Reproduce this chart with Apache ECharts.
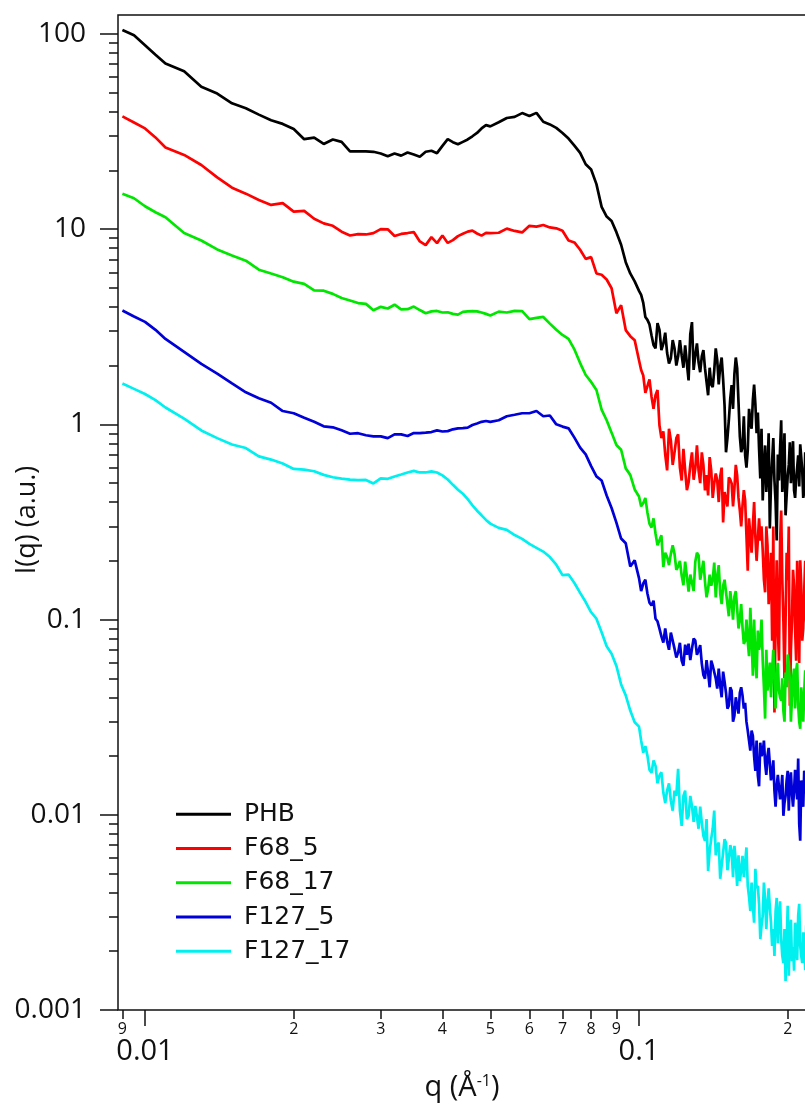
<!DOCTYPE html>
<html>
<head>
<meta charset="utf-8">
<script src="https://cdn.jsdelivr.net/npm/echarts@6/dist/echarts.min.js"></script>
<style>
  html, body { margin: 0; padding: 0; background: #fff; }
  #chart { width: 805px; height: 1107px; }
</style>
</head>
<body>
<div id="chart"></div>
<script>
// q grid (1/A), shared by all samples
const q = [0.0090, 0.0095, 0.0100, 0.0105, 0.0110, 0.0120, 0.0130, 0.0140, 0.0150, 0.0160, 0.0170, 0.0180,
  0.0190, 0.0200, 0.0210, 0.0220, 0.0230, 0.0240, 0.0250, 0.0260, 0.0270, 0.0280, 0.0290, 0.0300,
  0.031, 0.032, 0.033, 0.034, 0.035, 0.036, 0.037, 0.038, 0.039, 0.040, 0.041, 0.042, 0.043, 0.044,
  0.045, 0.046, 0.047, 0.048, 0.049, 0.050,
  0.052, 0.054, 0.056, 0.058, 0.060, 0.062, 0.064, 0.066, 0.068, 0.070,
  0.072, 0.074, 0.076, 0.078, 0.080, 0.082, 0.084, 0.086, 0.088, 0.090, 0.092, 0.094, 0.096, 0.098,
  0.100, 0.102, 0.104, 0.106, 0.108, 0.110, 0.112, 0.114, 0.116, 0.118, 0.120, 0.122, 0.124, 0.126,
  0.128, 0.130, 0.132, 0.134, 0.136, 0.138, 0.140, 0.142, 0.144, 0.146, 0.148, 0.150, 0.152, 0.154,
  0.156, 0.158, 0.160, 0.162, 0.164, 0.166, 0.168, 0.170, 0.172, 0.174, 0.176, 0.178, 0.180, 0.182,
  0.184, 0.186, 0.188, 0.190, 0.192, 0.194, 0.196, 0.198, 0.200, 0.202, 0.204, 0.206, 0.208, 0.210,
  0.212, 0.214, 0.216, 0.218, 0.220];

const phb = [104.8, 98.5, 87.6, 78.3, 70.6, 64.4, 53.6, 49.5, 44.1, 41.6, 38.6, 36.1,
  34.6, 32.6, 28.9, 29.4, 27.3, 28.8, 28.0, 25.0, 25.0, 25.0, 24.9, 24.4,
  23.6, 24.4, 23.8, 24.7, 24.1, 23.5, 24.9, 25.2, 24.5, 26.7, 28.9, 27.9, 27.2, 28.0,
  28.8, 29.9, 31.1, 32.8, 34.1, 33.6,
  35.3, 37.1, 37.6, 39.3, 38.0, 39.4, 35.5, 34.4, 33.0, 31.1,
  29.1, 26.8, 24.6, 21.5, 20.2, 17.0, 13.0, 11.6, 11.0, 9.65, 8.32, 6.77, 5.93, 5.40,
  4.83, 4.19, 3.43, 2.86, 2.45, 3.05, 2.59, 2.32, 2.18, 2.45, 2.23, 2.26, 2.54, 1.68,
  3.34, 2.26, 2.08, 2.23, 1.94, 1.41, 1.60, 1.89, 2.13, 1.98, 1.70, 0.719, 1.05, 1.59,
  1.81, 1.94, 0.868, 0.762, 0.694, 0.736, 1.04, 1.33, 1.27, 1.15, 0.529, 0.408, 0.780, 0.581,
  0.293, 0.654, 0.516, 0.254, 0.516, 1.05, 0.581, 0.342, 0.548, 0.809, 0.616, 0.459, 0.529, 0.694,
  0.790, 0.581, 0.453, 0.581, 0.654];

const f68_5 = [37.8, 35.2, 32.8, 29.5, 26.2, 24.0, 21.3, 18.4, 16.3, 15.2, 14.1, 13.3,
  13.6, 12.3, 12.4, 11.3, 10.7, 10.4, 9.70, 9.28, 9.43, 9.39, 9.54, 10.0,
  9.98, 9.23, 9.45, 9.55, 9.66, 8.65, 8.28, 9.10, 8.48, 9.28, 8.50, 8.78, 9.21, 9.47,
  9.71, 9.82, 9.50, 9.26, 9.56, 9.54,
  9.58, 10.06, 9.79, 9.62, 10.4, 10.3, 10.5, 10.2, 10.1, 9.82,
  8.75, 8.55, 7.84, 7.04, 7.19, 5.93, 5.84, 5.52, 4.98, 3.71, 4.08, 3.04, 2.83, 2.70,
  2.13, 1.78, 1.57, 1.39, 1.41, 0.988, 0.921, 0.581, 0.828, 0.719, 0.889, 0.516, 0.581, 0.504,
  0.719, 0.595, 0.581, 0.719, 0.459, 0.432, 0.581, 0.498, 0.516, 0.541, 0.314, 0.453, 0.535, 0.498,
  0.470, 0.548, 0.362, 0.384, 0.408, 0.178, 0.330, 0.300, 0.266, 0.196, 0.254, 0.226, 0.138, 0.240,
  0.159, 0.0780, 0.0334, 0.201, 0.0616, 0.362, 0.0988, 0.0988, 0.159, 0.0362, 0.0988, 0.149, 0.0616, 0.125,
  0.201, 0.0780, 0.141, 0.0988, 0.125];

const f68_17 = [15.2, 14.4, 13.1, 12.2, 11.5, 9.56, 8.75, 7.87, 7.32, 6.89, 6.20, 5.92,
  5.67, 5.38, 5.24, 4.85, 4.84, 4.66, 4.44, 4.31, 4.18, 4.14, 3.84, 4.00,
  3.92, 4.10, 3.88, 3.89, 4.01, 3.85, 3.71, 3.79, 3.81, 3.74, 3.75, 3.68, 3.65, 3.77,
  3.79, 3.80, 3.79, 3.74, 3.68, 3.61,
  3.78, 3.74, 3.81, 3.80, 3.46, 3.51, 3.55, 3.28, 3.05, 2.87,
  2.74, 2.42, 2.06, 1.79, 1.65, 1.50, 1.19, 1.05, 0.907, 0.784, 0.741, 0.595, 0.551, 0.464,
  0.427, 0.395, 0.354, 0.296, 0.276, 0.242, 0.186, 0.209, 0.217, 0.217, 0.187, 0.168, 0.198, 0.139,
  0.172, 0.198, 0.213, 0.178, 0.157, 0.143, 0.149, 0.196, 0.168, 0.136, 0.149, 0.138, 0.104, 0.122,
  0.131, 0.114, 0.100, 0.0910, 0.0780, 0.0771, 0.115, 0.0516, 0.0616, 0.0878, 0.0762, 0.0616, 0.0311, 0.0432,
  0.0602, 0.0548, 0.0510, 0.0504, 0.0432, 0.0384, 0.0342, 0.0535, 0.0662, 0.0487, 0.0398, 0.0561, 0.0548, 0.0362,
  0.0276, 0.0362, 0.0432, 0.0384, 0.0487];

const f127_5 = [3.83, 3.57, 3.35, 3.05, 2.74, 2.35, 2.04, 1.82, 1.62, 1.46, 1.36, 1.29,
  1.17, 1.14, 1.08, 1.03, 0.977, 0.966, 0.932, 0.895, 0.901, 0.879, 0.867, 0.868,
  0.850, 0.889, 0.889, 0.872, 0.902, 0.902, 0.907, 0.913, 0.931, 0.919, 0.923, 0.943, 0.953, 0.957,
  0.962, 0.992, 1.01, 1.03, 1.04, 1.03,
  1.05, 1.10, 1.12, 1.14, 1.14, 1.17, 1.10, 1.11, 1.00, 0.974,
  0.954, 0.855, 0.760, 0.702, 0.611, 0.541, 0.516, 0.432, 0.373, 0.314, 0.260, 0.246, 0.187, 0.201,
  0.163, 0.153, 0.136, 0.118, 0.101, 0.0899, 0.0762, 0.0771, 0.0858, 0.0710, 0.0677, 0.0616, 0.0744, 0.0753,
  0.0710, 0.0780, 0.0694, 0.0595, 0.0498, 0.0535, 0.0616, 0.0581, 0.0443, 0.0459, 0.0541, 0.0422, 0.0362, 0.0432,
  0.0322, 0.0362, 0.0422, 0.0408, 0.0375, 0.0270, 0.0213, 0.0254, 0.0168, 0.0159, 0.0234, 0.0208, 0.0183, 0.0201,
  0.0218, 0.0164, 0.0133, 0.0141, 0.0159, 0.0133, 0.00988, 0.0125, 0.0168, 0.0149, 0.0128, 0.0133, 0.0168, 0.0194,
  0.00736, 0.0118, 0.0168, 0.0133, 0.0149];

const f127_17 = [1.62, 1.52, 1.43, 1.33, 1.22, 1.07, 0.931, 0.850, 0.788, 0.756, 0.685, 0.660,
  0.630, 0.591, 0.586, 0.575, 0.551, 0.536, 0.527, 0.521, 0.518, 0.519, 0.498, 0.529,
  0.526, 0.541, 0.554, 0.567, 0.578, 0.567, 0.567, 0.574, 0.567, 0.548, 0.522, 0.490, 0.462, 0.441,
  0.414, 0.385, 0.361, 0.342, 0.324, 0.310,
  0.295, 0.288, 0.271, 0.259, 0.244, 0.233, 0.223, 0.209, 0.191, 0.169,
  0.170, 0.154, 0.137, 0.123, 0.109, 0.101, 0.0861, 0.0730, 0.0669, 0.0579, 0.0465, 0.0409, 0.0342, 0.0298,
  0.0283, 0.0208, 0.0201, 0.0164, 0.0178, 0.0159, 0.0130, 0.0133, 0.0118, 0.0133, 0.0172, 0.00878, 0.0133, 0.00988,
  0.0111, 0.0111, 0.00848, 0.00910, 0.00736, 0.00516, 0.00753, 0.0105, 0.00694, 0.00470, 0.00639, 0.00719, 0.00595, 0.00654,
  0.00694, 0.00432, 0.00459, 0.00616, 0.00567, 0.00432, 0.00322, 0.00342, 0.00529, 0.00432, 0.00231, 0.00304, 0.00362, 0.00350,
  0.00337, 0.00213, 0.00189, 0.00375, 0.00293, 0.00231, 0.00174, 0.00141, 0.00342, 0.00254, 0.00178, 0.00159, 0.00240, 0.00304,
  0.00213, 0.00174, 0.00226, 0.00270, 0.00226];

// extra points between the grid above, in the noisy high-q tail (0.101 ... 0.219)
const qTail = [0.101, 0.103, 0.105, 0.107, 0.109, 0.111, 0.113, 0.115, 0.117, 0.119,
  0.121, 0.123, 0.125, 0.127, 0.129, 0.131, 0.133, 0.135, 0.137, 0.139,
  0.141, 0.143, 0.145, 0.147, 0.149, 0.151, 0.153, 0.155, 0.157, 0.159,
  0.161, 0.163, 0.165, 0.167, 0.169, 0.171, 0.173, 0.175, 0.177, 0.179,
  0.181, 0.183, 0.185, 0.187, 0.189, 0.191, 0.193, 0.195, 0.197, 0.199,
  0.201, 0.203, 0.205, 0.207, 0.209, 0.211, 0.213, 0.215, 0.217, 0.219];

const phbTail = [4.6, 3.55, 3.25, 2.55, 3.3, 2.4, 2.95, 2.05, 2.7, 2.0,
  2.7, 1.95, 2.05, 2.9, 1.9, 2.6, 1.85, 2.4, 1.65, 1.95,
  1.55, 2.45, 1.6, 2.2, 1.25, 0.85, 1.35, 1.2, 2.2, 1.3,
  0.72, 1.1, 0.6, 1.2, 0.95, 1.6, 0.9, 0.75, 0.95, 0.6,
  0.45, 0.9, 0.5, 0.85, 0.4, 0.7, 0.75, 0.45, 0.9, 0.35,
  0.62, 0.5, 0.82, 0.42, 0.6, 0.48, 0.68, 0.42, 0.72, 0.5];

const f68_5Tail = [1.9, 1.45, 1.7, 1.2, 1.5, 0.85, 0.7, 0.95, 0.62, 0.85,
  0.6, 0.75, 0.46, 0.62, 0.52, 0.78, 0.5, 0.62, 0.55, 0.68,
  0.42, 0.56, 0.4, 0.6, 0.45, 0.38, 0.52, 0.38, 0.62, 0.42,
  0.3, 0.46, 0.27, 0.33, 0.22, 0.4, 0.2, 0.33, 0.3, 0.16,
  0.3, 0.12, 0.22, 0.3, 0.1, 0.09, 0.25, 0.16, 0.05, 0.22,
  0.3, 0.07, 0.18, 0.09, 0.2, 0.06, 0.15, 0.09, 0.2, 0.08];

const f68_17Tail = [0.38, 0.42, 0.31, 0.33, 0.24, 0.27, 0.22, 0.19, 0.24, 0.18,
  0.2, 0.15, 0.2, 0.17, 0.14, 0.22, 0.16, 0.2, 0.13, 0.17,
  0.16, 0.13, 0.19, 0.12, 0.16, 0.12, 0.14, 0.1, 0.14, 0.09,
  0.12, 0.075, 0.1, 0.065, 0.08, 0.1, 0.05, 0.07, 0.1, 0.045,
  0.07, 0.05, 0.04, 0.07, 0.035, 0.06, 0.04, 0.05, 0.03, 0.045,
  0.06, 0.03, 0.05, 0.035, 0.06, 0.03, 0.045, 0.03, 0.055, 0.035];

const f127_5Tail = [0.14, 0.16, 0.122, 0.125, 0.098, 0.082, 0.09, 0.07, 0.078, 0.064,
  0.076, 0.058, 0.066, 0.062, 0.08, 0.066, 0.074, 0.052, 0.062, 0.045,
  0.058, 0.05, 0.056, 0.04, 0.048, 0.035, 0.045, 0.03, 0.04, 0.033,
  0.045, 0.035, 0.03, 0.024, 0.027, 0.02, 0.024, 0.014, 0.02, 0.024,
  0.016, 0.022, 0.015, 0.019, 0.011, 0.016, 0.012, 0.016, 0.0115, 0.015,
  0.0105, 0.0165, 0.011, 0.017, 0.012, 0.009, 0.015, 0.011, 0.016, 0.01];

const f127_17Tail = [0.024, 0.0225, 0.017, 0.019, 0.0145, 0.0165, 0.0115, 0.0145, 0.0105, 0.0125,
  0.0105, 0.0125, 0.0095, 0.0125, 0.0092, 0.0098, 0.011, 0.0078, 0.0095, 0.0065,
  0.0085, 0.0062, 0.0072, 0.0055, 0.0075, 0.0052, 0.007, 0.0048, 0.0058, 0.0062,
  0.0052, 0.0048, 0.0068, 0.0038, 0.0045, 0.0028, 0.0042, 0.0035, 0.0027, 0.0045,
  0.0026, 0.0042, 0.0028, 0.0026, 0.0032, 0.0022, 0.0036, 0.0019, 0.0026, 0.0022,
  0.0015, 0.0029, 0.0021, 0.0028, 0.0018, 0.0035, 0.0019, 0.0025, 0.0016, 0.0029];

const seriesNames = ['PHB', 'F68_5', 'F68_17', 'F127_5', 'F127_17'];
const seriesColors = ['#000000', '#ff0000', '#00e600', '#0000d8', '#00f0f0'];
const seriesValues = [phb, f68_5, f68_17, f127_5, f127_17];
const seriesTails = [phbTail, f68_5Tail, f68_17Tail, f127_5Tail, f127_17Tail];

// axis ticks
const xMinorTicks = [0.009, 0.02, 0.03, 0.04, 0.05, 0.06, 0.07, 0.08, 0.09, 0.2];
const xMinorLabels = ['9', '2', '3', '4', '5', '6', '7', '8', '9', '2'];
const xMajorTicks = [0.01, 0.1];
const xMajorLabels = ['0.01', '0.1'];
const yMajorTicks = [0.001, 0.01, 0.1, 1, 10, 100];
const yMajorLabels = ['0.001', '0.01', '0.1', '1', '10', '100'];

const xMin = 0.008817, xMax = 0.25;
const yMin = 0.001, yMax = 125;

const FONT = '"Open Sans", "Noto Sans", sans-serif';
const LEGEND_FONT = '"DejaVu Sans", "Open Sans", sans-serif';
const INK = '#111';

const lg = Math.log10;
const yMinorTicks = [];
yMajorTicks.slice(0, 5).forEach(d => {
  for (let k = 2; k <= 9; k++) yMinorTicks.push(d * k);
});

function pick(ticks, labels) {
  const logs = ticks.map(lg);
  return v => {
    const i = logs.findIndex(t => Math.abs(t - v) < 1e-6);
    return i >= 0 ? labels[i] : '';
  };
}

function pairs(s) {
  let pts = q.map((v, i) => [v, seriesValues[s][i]])
    .concat(qTail.map((v, i) => [v, seriesTails[s][i]]));
  pts.sort((a, b) => a[0] - b[0]);
  return pts;
}

let chart = echarts.init(document.getElementById('chart'), null, { renderer: 'canvas' });

// decoration axes in log10 units, laid over the log axes that carry the data
let overlayX = (ticks, len, labelOpt) => ({
  type: 'value',
  gridIndex: 0,
  position: 'bottom',
  min: lg(xMin),
  max: lg(xMax),
  axisLine: { show: false, onZero: false },
  splitLine: { show: false },
  axisTick: {
    show: true,
    customValues: ticks.map(lg),
    length: len,
    lineStyle: { color: INK, width: 1.5 }
  },
  axisLabel: labelOpt
});

let overlayY = (ticks, len, labelOpt) => ({
  type: 'value',
  gridIndex: 0,
  position: 'left',
  min: lg(yMin),
  max: lg(yMax),
  axisLine: { show: false, onZero: false },
  splitLine: { show: false },
  axisTick: {
    show: true,
    customValues: ticks.map(lg),
    length: len,
    lineStyle: { color: INK, width: 1.5 }
  },
  axisLabel: labelOpt
});

let option = {
  backgroundColor: '#ffffff',
  animation: false,
  grid: {
    left: 118,
    top: 15,
    width: 494 * (lg(xMax) - lg(xMin)),
    height: 995,
    show: true,
    borderColor: INK,
    borderWidth: 1.5,
    backgroundColor: 'transparent',
    containLabel: false,
    outerBoundsMode: 'none'
  },
  legend: {
    orient: 'vertical',
    left: 176,
    top: 797,
    padding: 0,
    itemGap: 0,
    itemWidth: 55,
    itemHeight: 3,
    icon: 'rect',
    selectedMode: false,
    data: seriesNames,
    textStyle: {
      fontFamily: LEGEND_FONT,
      fontSize: 25,
      lineHeight: 34.3,
      color: INK,
      padding: [0, 0, 0, 8]
    }
  },
  xAxis: [
    {
      type: 'log',
      gridIndex: 0,
      min: xMin,
      max: xMax,
      axisLine: { show: false, onZero: false },
      axisTick: { show: false },
      axisLabel: { show: false },
      splitLine: { show: false },
      minorTick: { show: false }
    },
    overlayX(xMinorTicks, 9, {
      show: true,
      customValues: xMinorTicks.map(lg),
      formatter: pick(xMinorTicks, xMinorLabels),
      fontFamily: FONT,
      fontSize: 16,
      color: INK,
      margin: 11
    }),
    overlayX(xMajorTicks, 16, {
      show: true,
      customValues: xMajorTicks.map(lg),
      formatter: pick(xMajorTicks, xMajorLabels),
      fontFamily: FONT,
      fontSize: 29,
      color: INK,
      margin: 27
    })
  ],
  yAxis: [
    {
      type: 'log',
      gridIndex: 0,
      min: yMin,
      max: yMax,
      axisLine: { show: false, onZero: false },
      axisTick: { show: false },
      axisLabel: { show: false },
      splitLine: { show: false },
      minorTick: { show: false }
    },
    overlayY(yMajorTicks, 18, {
      show: true,
      customValues: yMajorTicks.map(lg),
      formatter: pick(yMajorTicks, yMajorLabels),
      fontFamily: FONT,
      fontSize: 28,
      color: INK,
      margin: 32
    }),
    overlayY(yMinorTicks, 9, { show: false })
  ],
  graphic: [
    {
      type: 'text',
      x: 27,
      y: 520,
      rotation: Math.PI / 2,
      style: {
        text: 'I(q) (a.u.)',
        font: '27px ' + FONT,
        fill: INK,
        align: 'center',
        verticalAlign: 'middle'
      }
    },
    {
      type: 'text',
      x: 462,
      y: 1088,
      style: {
        text: '{n|q (Å}{s|-1}{n|)}',
        fill: INK,
        align: 'center',
        verticalAlign: 'middle',
        rich: {
          n: { fontFamily: FONT, fontSize: 29, color: INK },
          s: { fontFamily: FONT, fontSize: 16, color: INK, verticalAlign: 'top' }
        }
      }
    }
  ],
  series: seriesNames.map((name, s) => ({
    name: name,
    type: 'line',
    xAxisIndex: 0,
    yAxisIndex: 0,
    showSymbol: false,
    symbol: 'none',
    color: seriesColors[s],
    lineStyle: { color: seriesColors[s], width: 2.7 },
    data: pairs(s)
  }))
};

chart.setOption(option);
</script>
</body>
</html>
